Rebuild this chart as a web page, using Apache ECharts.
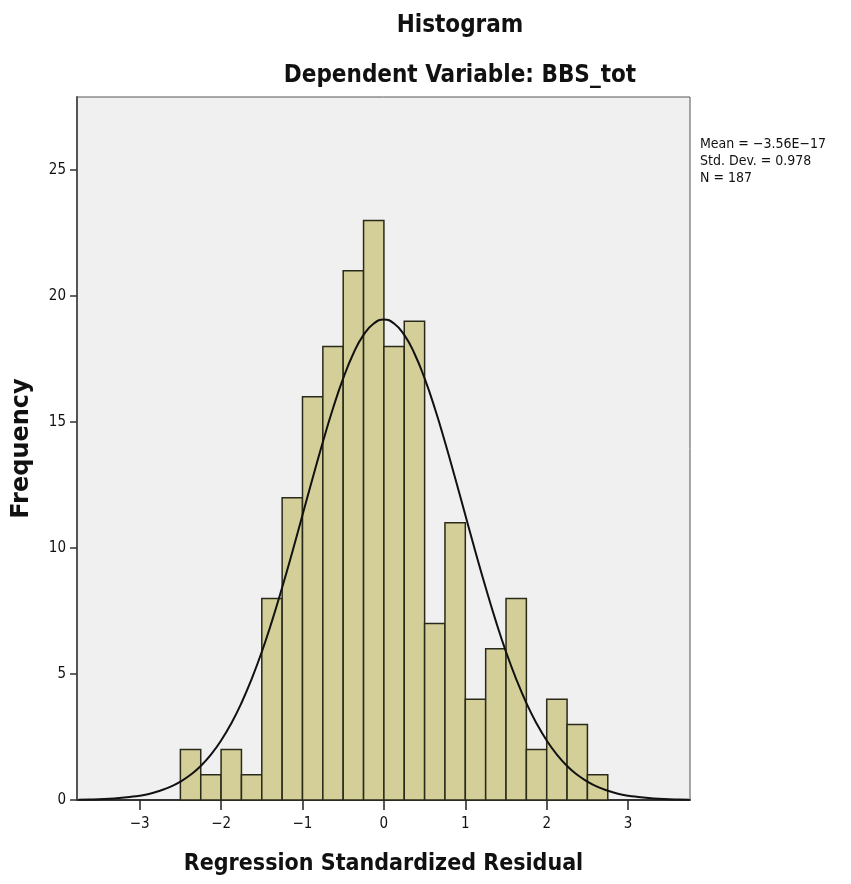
<!DOCTYPE html>
<html>
<head>
<meta charset="utf-8">
<script src="https://cdn.jsdelivr.net/npm/echarts@6/dist/echarts.min.js"></script>
<style>
html, body { margin: 0; padding: 0; background: #fff; }
#chart { width: 851px; height: 884px; }
</style>
</head>
<body>
<div id="chart"></div>
<script>
// histogram bins (regression standardized residual), width 0.25
const binStarts = [-2.5, -2.25, -2.0, -1.75, -1.5, -1.25, -1.0, -0.75, -0.5, -0.25,
                   0.0, 0.25, 0.5, 0.75, 1.0, 1.25, 1.5, 1.75, 2.0, 2.25, 2.5];
const frequencies = [2, 1, 2, 1, 8, 12, 16, 18, 21, 23,
                     18, 19, 7, 11, 4, 6, 8, 2, 4, 3, 1];
const binWidth = 0.25;

// normal curve
const curveX = [-3.75, -3.625, -3.5, -3.375, -3.25, -3.125, -3.0, -2.875, -2.75, -2.625,
                -2.5, -2.375, -2.25, -2.125, -2.0, -1.875, -1.75, -1.625, -1.5, -1.375,
                -1.25, -1.125, -1.0, -0.875, -0.75, -0.625, -0.5, -0.375, -0.25, -0.125,
                0, 0.125, 0.25, 0.375, 0.5, 0.625, 0.75, 0.875, 1.0, 1.125,
                1.25, 1.375, 1.5, 1.625, 1.75, 1.875, 2.0, 2.125, 2.25, 2.375,
                2.5, 2.625, 2.75, 2.875, 3.0, 3.125, 3.25, 3.375, 3.5, 3.625, 3.75];
const curveY = [0.01, 0.02, 0.03, 0.05, 0.08, 0.12, 0.17, 0.25, 0.37, 0.52,
                0.73, 1.00, 1.35, 1.80, 2.36, 3.04, 3.85, 4.80, 5.88, 7.10,
                8.43, 9.84, 11.31, 12.78, 14.21, 15.55, 16.73, 17.72, 18.46, 18.91,
                19.07, 18.91, 18.46, 17.72, 16.73, 15.55, 14.21, 12.78, 11.31, 9.84,
                8.43, 7.10, 5.88, 4.80, 3.85, 3.04, 2.36, 1.80, 1.35, 1.00,
                0.73, 0.52, 0.37, 0.25, 0.17, 0.12, 0.08, 0.05, 0.03, 0.02, 0.01];

const xTicks = [-3, -2, -1, 0, 1, 2, 3];
const statLines = ['Mean = \u22123.56E\u221217', 'Std. Dev. = 0.978', 'N = 187'];

const font = '"DejaVu Sans Condensed", "DejaVu Sans", sans-serif';

const chart = echarts.init(document.getElementById('chart'));

const bars = binStarts.map((s, i) => [s, s + binWidth, frequencies[i]]);
const curve = curveX.map((x, i) => [x, curveY[i]]);

const option = {
    animation: false,
    title: [
        {
            text: 'Histogram',
            left: 455, top: 9, textAlign: 'center',
            textStyle: { fontFamily: font, fontWeight: 'bold', fontSize: 24, color: '#111' }
        },
        {
            text: 'Dependent Variable: BBS_tot',
            left: 455, top: 59, textAlign: 'center',
            textStyle: { fontFamily: font, fontWeight: 'bold', fontSize: 24, color: '#111' }
        }
    ],
    graphic: statLines.map((t, i) => ({
        type: 'text',
        left: 700, top: 137 + i * 17,
        style: { text: t, font: '14px ' + font, fill: '#111' }
    })),
    grid: {
        left: 77, right: 161, top: 97, bottom: 84,
        show: true,
        backgroundColor: '#f0f0f0',
        borderColor: '#555',
        borderWidth: 1
    },
    xAxis: {
        type: 'value',
        min: -3.77, max: 3.76,
        name: 'Regression Standardized Residual',
        nameLocation: 'middle',
        nameGap: 53,
        nameTextStyle: { fontFamily: font, fontWeight: 'bold', fontSize: 23, color: '#111' },
        splitLine: { show: false },
        axisLine: { show: true, onZero: false, lineStyle: { color: '#333', width: 2 } },
        axisTick: { show: true, customValues: xTicks, length: 10, lineStyle: { color: '#222', width: 1.5 } },
        axisLabel: {
            customValues: xTicks, margin: 17,
            fontFamily: font, fontSize: 15, color: '#111',
            formatter: v => String(v).replace('-', '\u2212')
        }
    },
    yAxis: {
        type: 'value',
        min: 0, max: 27.9,
        interval: 5,
        name: 'Frequency',
        nameLocation: 'middle',
        nameGap: 43,
        nameTextStyle: { fontFamily: '"DejaVu Sans", sans-serif', fontWeight: 'bold', fontSize: 24, color: '#111' },
        splitLine: { show: false },
        axisLine: { show: true, onZero: false, lineStyle: { color: '#555', width: 2 } },
        axisTick: { show: true, length: 7, lineStyle: { color: '#333', width: 1.5 } },
        axisLabel: {
            margin: 11,
            fontFamily: font, fontSize: 15, color: '#111',
            showMaxLabel: false
        }
    },
    series: [
        {
            type: 'custom',
            data: bars,
            encode: { x: [0, 1], y: 2 },
            renderItem: (params, api) => {
                const p0 = api.coord([api.value(0), api.value(2)]);
                const p1 = api.coord([api.value(1), 0]);
                return {
                    type: 'rect',
                    shape: { x: p0[0], y: p0[1], width: p1[0] - p0[0], height: p1[1] - p0[1] },
                    style: { fill: '#d4cf98', stroke: '#2a2a1a', lineWidth: 1.5 }
                };
            },
            z: 2
        },
        {
            type: 'line',
            data: curve,
            smooth: true,
            symbol: 'none',
            lineStyle: { color: '#111', width: 2 },
            z: 3
        }
    ]
};

chart.setOption(option);
</script>
</body>
</html>
